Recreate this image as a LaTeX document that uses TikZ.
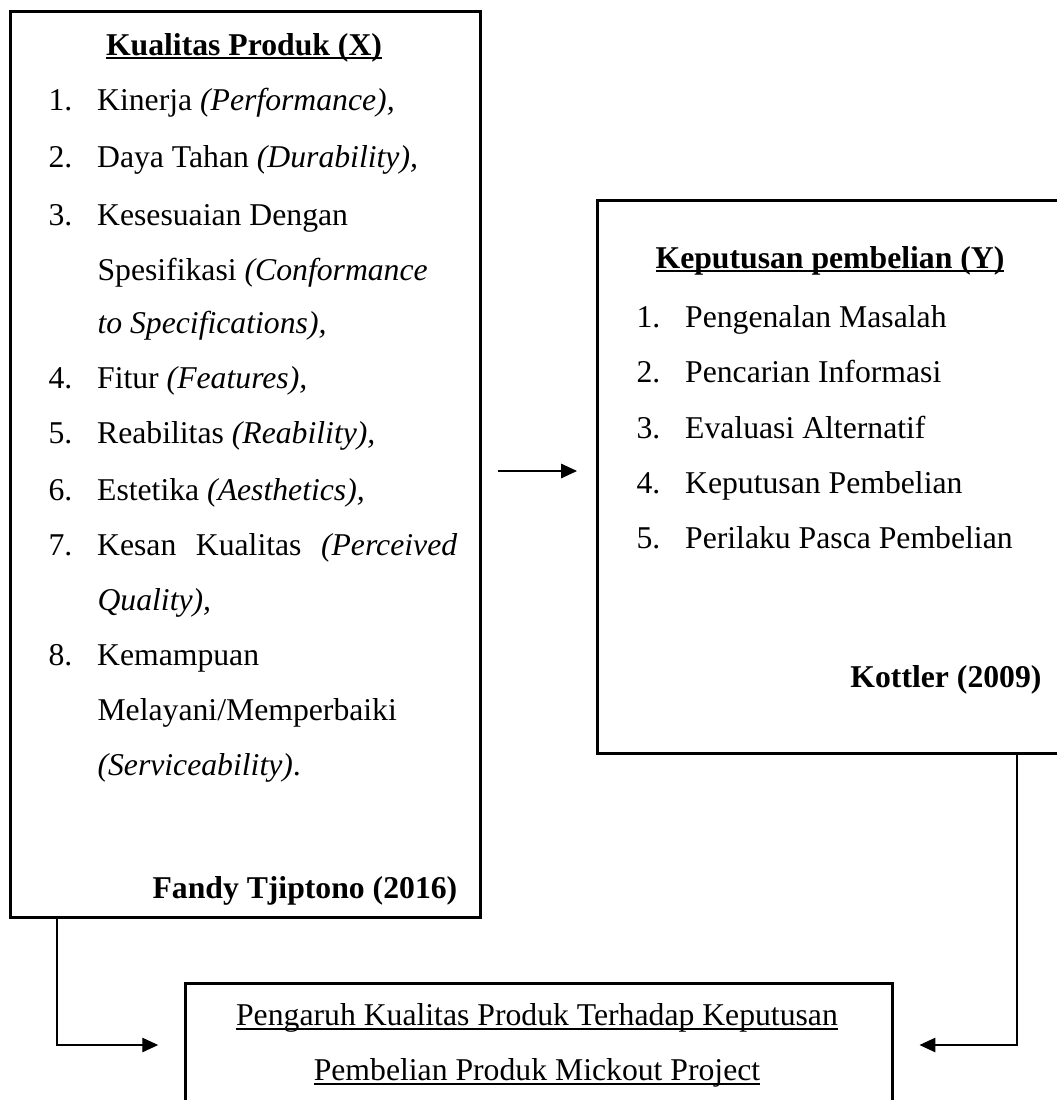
\documentclass[tikz,border=0pt]{standalone}
\usepackage{fontspec}
\setmainfont{Liberation Serif}
\usetikzlibrary{arrows.meta}
\usetikzlibrary{calc}
\usetikzlibrary{positioning}

\newcommand{\nomor}[2]{\makebox[18.4pt][l]{#1.}#2}
\newsavebox{\garisbox}
\newcommand{\garis}[2][0.6pt]{\sbox{\garisbox}{#2}\rlap{\rule[-1.7pt]{\wd\garisbox}{#1}}\usebox{\garisbox}}

\tikzset{
  kotak/.style={draw=black, line width=1pt, anchor=north west, inner sep=0pt},
  teks/.style={anchor=base west, inner sep=0pt, font=\fontsize{12}{20.8}\selectfont},
  judul/.style={anchor=base, inner sep=0pt, font=\fontsize{12}{20.8}\selectfont\bfseries},
  panah/.style={draw=black, line width=0.4pt, -{Triangle[length=6pt, width=5.5pt]}}
}

\begin{document}
\begin{tikzpicture}[x=0.3785pt, y=-0.3785pt]
    \useasboundingbox (0,0) rectangle (1057,1100);
    \node[kotak, minimum width=177.9pt, minimum height=342.9pt] (X) at (9,10) {};
    \node[kotak, minimum width=180pt, minimum height=209.3pt] (Y) at (596,199) {};
    \node[kotak, minimum width=267.6pt, minimum height=60pt] (Z) at (184,982) {};

    \node[judul] (judulX) at (244,55) {\garis[0.9pt]{Kualitas Produk (X)}};
    \node[teks] (x1) at (48,110) {\nomor{1}{Kinerja \textit{(Performance),}}};
    \node[teks] (x2) at (48,167) {\nomor{2}{Daya Tahan \textit{(Durability),}}};
    \node[teks] (x3) at (48,225) {\nomor{3}{Kesesuaian Dengan}};
    \node[teks] (x3b) at (97,280) {Spesifikasi \textit{(Conformance}};
    \node[teks] (x3c) at (97,333) {\textit{to Specifications),}};
    \node[teks] (x4) at (48,388) {\nomor{4}{Fitur \textit{(Features),}}};
    \node[teks] (x5) at (48,443) {\nomor{5}{Reabilitas \textit{(Reability),}}};
    \node[teks] (x6) at (48,500) {\nomor{6}{Estetika \textit{(Aesthetics),}}};
    \node[teks] (x7) at (48,555) {\nomor{7}{\makebox[136.3pt][s]{Kesan Kualitas \textit{(Perceived}}}};
    \node[teks] (x7b) at (97,610) {\textit{Quality),}};
    \node[teks] (x8) at (48,665) {\nomor{8}{Kemampuan}};
    \node[teks] (x8b) at (97,720) {Melayani/Memperbaiki};
    \node[teks] (x8c) at (97,775) {\textit{(Serviceability)}.};
    \node[teks, font=\fontsize{12}{20.8}\selectfont\bfseries] (sumberX) at (152,898) {Fandy Tjiptono (2016)};

    \node[judul] (judulY) at (830,268) {\garis[0.9pt]{Keputusan pembelian (Y)}};
    \node[teks] (y1) at (636,327) {\nomor{1}{Pengenalan Masalah}};
    \node[teks] (y2) at (636,382) {\nomor{2}{Pencarian Informasi}};
    \node[teks] (y3) at (636,438) {\nomor{3}{Evaluasi Alternatif}};
    \node[teks] (y4) at (636,493) {\nomor{4}{Keputusan Pembelian}};
    \node[teks] (y5) at (636,548) {\nomor{5}{Perilaku Pasca Pembelian}};
    \node[teks, anchor=base east, font=\fontsize{12}{20.8}\selectfont\bfseries] (sumberY) at (1042,687) {Kottler (2009)};

    \node[judul, font=\fontsize{12}{20.8}\selectfont] (z1) at (537,1025) {\garis{Pengaruh Kualitas Produk Terhadap Keputusan}};
    \node[judul, font=\fontsize{12}{20.8}\selectfont] (z2) at (537,1080) {\garis{Pembelian Produk Mickout Project}};

    \coordinate (tengah) at (0,471);
    \coordinate (belokX) at (57,1045);
    \coordinate (belokY) at (1017,1045);
    \draw[panah, shorten <=6pt, shorten >=7.2pt] (X.east |- tengah) -- (Y.west |- tengah);
    \draw[panah, shorten >=9.8pt] (X.south -| belokX) |- (Z.west |- belokX);
    \draw[panah, shorten >=9.8pt] (Y.south -| belokY) |- (Z.east |- belokY);
\end{tikzpicture}
\end{document}
